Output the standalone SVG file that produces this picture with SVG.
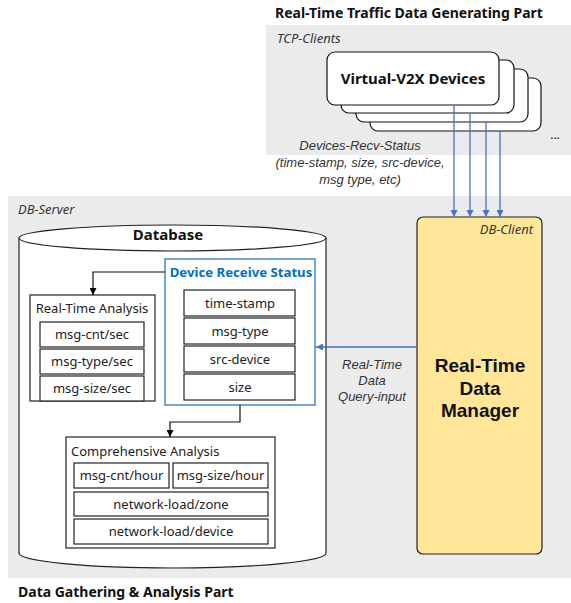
<svg xmlns="http://www.w3.org/2000/svg" width="571" height="603" viewBox="0 0 571 603">
<defs>
<marker id="ab" viewBox="0 0 10 10" refX="10" refY="5" markerWidth="7" markerHeight="7" orient="auto" markerUnits="userSpaceOnUse"><path d="M0,0 L10,5 L0,10 z" fill="#4472C4"/></marker>
<marker id="ak" viewBox="0 0 10 10" refX="10" refY="5" markerWidth="7" markerHeight="7" orient="auto" markerUnits="userSpaceOnUse"><path d="M0,0 L10,5 L0,10 z" fill="#000"/></marker>
<style>
text{font-family:"Noto Sans","Open Sans",sans-serif;fill:#111}
.t{font-size:14px;font-weight:bold}
.it{font-size:13px;font-style:italic;fill:#333}
.ml{font-family:"Liberation Sans",Arial,sans-serif}
.lb{font-size:13px;text-anchor:middle;fill:#222}
.bx{fill:#fff;stroke:#222;stroke-width:1.2}
.dev{fill:#fff;stroke:#111;stroke-width:1.2}
.bl{stroke:#4472C4;stroke-width:1.3;fill:none}
.bk{stroke:#111;stroke-width:1.2;fill:none}
.mgr{font-family:"Liberation Sans",Arial,sans-serif;font-size:19px;font-weight:bold;text-anchor:middle}
</style>
</defs>
<rect x="266" y="25" width="305" height="130" fill="#EBEBEB"/>
<rect x="8" y="196" width="563" height="382" fill="#EBEBEB"/>
<text class="t" x="275" y="18">Real-Time Traffic Data Generating Part</text>
<text class="t" x="18" y="597">Data Gathering &amp; Analysis Part</text>
<text class="it" x="277" y="43">TCP-Clients</text>
<text class="it" x="18" y="214">DB-Server</text>
<g id="devices">
<rect class="dev" x="370" y="78" width="171" height="53" rx="8"/>
<rect class="dev" x="356" y="69" width="172" height="53" rx="8"/>
<rect class="dev" x="341" y="60" width="173" height="53" rx="8"/>
<rect class="dev" x="327" y="52" width="172" height="53" rx="8"/>
<text x="413" y="84" style="font-size:15px;font-weight:bold;text-anchor:middle">Virtual-V2X Devices</text>
<text x="555" y="139" style="font-size:12px;text-anchor:middle">...</text>
</g>
<g id="db-client">
<rect x="417" y="217" width="125" height="337" rx="6" fill="#FFE699" stroke="#222" stroke-width="1.2"/>
<text class="it" x="533" y="234" text-anchor="end">DB-Client</text>
<text class="mgr" x="480" y="372">Real-Time</text>
<text class="mgr" x="480" y="395">Data</text>
<text class="mgr" x="480" y="417">Manager</text>
</g>
<g id="database">
<path d="M19,238 L19,553 A153.5,15 0 0 0 326,553 L326,238" fill="#fff" stroke="#222" stroke-width="1.2"/>
<ellipse cx="172.5" cy="238" rx="153.5" ry="13" fill="#fff" stroke="#222" stroke-width="1.2"/>
<text x="168" y="240" style="font-size:15px;font-weight:bold;text-anchor:middle">Database</text>
</g>
<g id="device-receive-status">
<rect x="165" y="259" width="150" height="146" fill="#fff" stroke="#2E75B6" stroke-width="1.3"/>
<text x="241" y="277" style="font-size:13.2px;font-weight:bold;text-anchor:middle;fill:#0070C0">Device Receive Status</text>
<rect class="bx" x="184" y="290" width="111" height="26"/>
<text class="lb" x="240" y="308">time-stamp</text>
<rect class="bx" x="184" y="318" width="111" height="26"/>
<text class="lb" x="240" y="336">msg-type</text>
<rect class="bx" x="184" y="346" width="111" height="26"/>
<text class="lb" x="240" y="364">src-device</text>
<rect class="bx" x="184" y="374" width="111" height="26"/>
<text class="lb" x="240" y="392">size</text>
</g>
<g id="real-time-analysis">
<rect class="bx" x="30" y="295" width="125" height="106"/>
<text class="lb" x="92" y="313">Real-Time Analysis</text>
<rect class="bx" x="40" y="322" width="104" height="25"/>
<text class="lb" x="92" y="339">msg-cnt/sec</text>
<rect class="bx" x="40" y="349" width="104" height="25"/>
<text class="lb" x="92" y="366">msg-type/sec</text>
<rect class="bx" x="40" y="376" width="104" height="25"/>
<text class="lb" x="92" y="393">msg-size/sec</text>
</g>
<g id="comprehensive-analysis">
<rect class="bx" x="66" y="437" width="209" height="111"/>
<text x="71" y="456" style="font-size:13px;fill:#222">Comprehensive Analysis</text>
<rect class="bx" x="74" y="463" width="95" height="25"/>
<text class="lb" x="121.5" y="480">msg-cnt/hour</text>
<rect class="bx" x="173" y="463" width="95" height="25"/>
<text class="lb" x="220.5" y="480">msg-size/hour</text>
<rect class="bx" x="74" y="492" width="194" height="24"/>
<text class="lb" x="171" y="509">network-load/zone</text>
<rect class="bx" x="74" y="519" width="194" height="25"/>
<text class="lb" x="171" y="536">network-load/device</text>
</g>
<g id="connectors">
<line class="bl" x1="454" y1="105" x2="454" y2="217" marker-end="url(#ab)"/>
<line class="bl" x1="470" y1="113" x2="470" y2="217" marker-end="url(#ab)"/>
<line class="bl" x1="486" y1="122" x2="486" y2="217" marker-end="url(#ab)"/>
<line class="bl" x1="500" y1="131" x2="500" y2="217" marker-end="url(#ab)"/>
<line class="bl" x1="417" y1="347" x2="316" y2="347" marker-end="url(#ab)"/>
<polyline class="bk" points="165,272 93,272 93,295" marker-end="url(#ak)"/>
<polyline class="bk" points="240,405 240,422 170,422 170,437" marker-end="url(#ak)"/>
</g>
<g id="labels">
<text class="it ml" x="360" y="150" text-anchor="middle">Devices-Recv-Status</text>
<text class="it ml" x="360" y="167" text-anchor="middle">(time-stamp, size, src-device,</text>
<text class="it ml" x="360" y="184" text-anchor="middle">msg type, etc)</text>
<text class="it ml" x="372" y="369" text-anchor="middle">Real-Time</text>
<text class="it ml" x="372" y="385" text-anchor="middle">Data</text>
<text class="it ml" x="372" y="401" text-anchor="middle">Query-input</text>
</g>
</svg>
